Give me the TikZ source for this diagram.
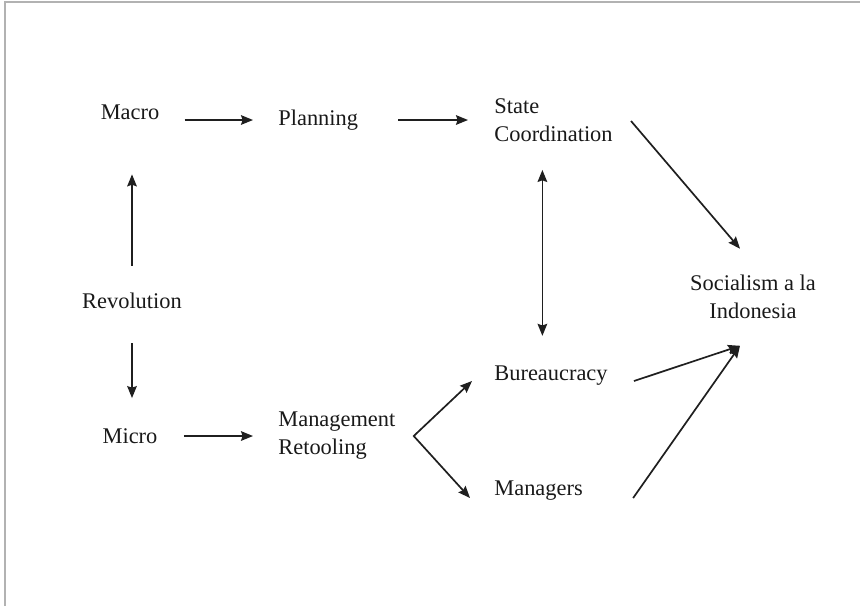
\documentclass[tikz,border=0pt]{standalone}
\usepackage{fontspec}
\setmainfont{Liberation Serif}
\usetikzlibrary{arrows.meta}

\begin{document}
\begin{tikzpicture}[x=0.5pt,y=-0.5pt,
    lbl/.style={inner sep=0pt, text=black!90, font=\fontsize{11.2}{14}\selectfont},
    arr/.style={->, line width=0.85pt, draw=black!88},
    >={Stealth[length=6pt,width=4.8pt,inset=0.8pt]}]
      \useasboundingbox (0,0) rectangle (860,606);
      \draw[black!30, line width=1pt] (4.5,606) -- (4.5,2) -- (860,2);

      \node at (130,112.5) [lbl] (macro)      {Macro};
      \node at (278,120)   [lbl, anchor=west] (planning) {Planning};
      \node at (494,120)   [lbl, anchor=west, align=left] (state) {State\\Coordination};
      \node at (132,301)   [lbl] (revolution) {Revolution};
      \node at (130,436)   [lbl] (micro)      {Micro};
      \node at (278,436)   [lbl, anchor=west, align=left] (mgmt) {Management\\Retooling};
      \node at (494,376)   [lbl, anchor=west] (bureau)   {Bureaucracy};
      \node at (494,491)   [lbl, anchor=west] (managers) {Managers};
      \node at (753,296.5) [lbl, align=center] (socialism) {Socialism a la\\Indonesia};

      \draw[arr, shorten <=12.5pt, shorten >=12.5pt] (macro.east |- planning.west) -- (planning.west);
      \draw[arr, shorten <=20pt, shorten >=13pt] (planning.east) -- (planning.east -| state.west);
      \draw[arr, shorten <=13.5pt, shorten >=27pt] (revolution.north) -- (revolution.north |- macro.south);
      \draw[arr, shorten <=17pt, shorten >=15pt] (revolution.south) -- (revolution.south |- micro.north);
      \draw[arr, shorten <=13pt, shorten >=12.5pt] (micro.east) -- (micro.east -| mgmt.west);

      \coordinate (fork) at ([xshift=9pt]mgmt.east);
      \draw[arr, <->] ([shift={(-11pt,-2.5pt)}]bureau.west) -- (fork) -- ([shift={(-12pt,-3.5pt)}]managers.west);
      \draw[arr, <->, shorten <=15pt, shorten >=14pt] ([xshift=-4.3pt]bureau.north) -- ([xshift=-4.3pt]bureau.north |- state.south);

      \coordinate (socin) at ([shift={(-6.5pt,-13.5pt)}]socialism.south);
      \draw[arr] ([shift={(9pt,-0.5pt)}]state.east) -- ([shift={(-6.5pt,12.75pt)}]socialism.north);
      \draw[arr] ([shift={(13pt,-2.5pt)}]bureau.east) -- (socin);
      \draw[arr] ([shift={(25pt,-3.5pt)}]managers.east) -- (socin);
    \end{tikzpicture}
\end{document}
